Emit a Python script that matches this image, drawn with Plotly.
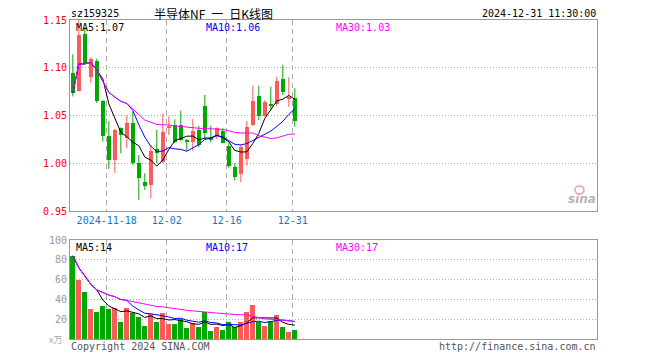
import numpy as np
import pandas as pd
import plotly.graph_objects as go

# ---------------- data ----------------
dates = ["2024-11-08", "2024-11-11", "2024-11-12", "2024-11-13", "2024-11-14", "2024-11-15",
         "2024-11-18", "2024-11-19", "2024-11-20", "2024-11-21", "2024-11-22", "2024-11-25",
         "2024-11-26", "2024-11-27", "2024-11-28", "2024-11-29", "2024-12-02", "2024-12-03",
         "2024-12-04", "2024-12-05", "2024-12-06", "2024-12-09", "2024-12-10", "2024-12-11",
         "2024-12-12", "2024-12-13", "2024-12-16", "2024-12-17", "2024-12-18", "2024-12-19",
         "2024-12-20", "2024-12-23", "2024-12-24", "2024-12-25", "2024-12-26", "2024-12-27",
         "2024-12-30", "2024-12-31"]
open_ = [1.0945, 1.076, 1.135, 1.090, 1.1074, 1.065, 1.029, 1.0035, 1.0366, 1.026,
         1.0418, 1.0006, 0.9807, 0.9772, 1.0146, 1.0016, 1.037, 1.040, 1.040, 1.0236,
         1.0226, 1.0347, 1.060, 1.0267, 1.0288, 1.0333, 1.0184, 0.9958, 0.9889, 1.0045,
         1.040, 1.070, 1.0495, 1.062, 1.0617, 1.0882, 1.0673, 1.0687]
high = [1.114, 1.150, 1.142, 1.111, 1.1095, 1.066, 1.044, 1.036, 1.0375, 1.050,
        1.054, 1.0086, 0.9895, 1.019, 1.0348, 1.0523, 1.049, 1.046, 1.055, 1.0253,
        1.0462, 1.0392, 1.0715, 1.0392, 1.0375, 1.0368, 1.0208, 1.000, 1.0194, 1.0444,
        1.0812, 1.0812, 1.066, 1.0802, 1.0907, 1.1029, 1.090, 1.0785]
low = [1.070, 1.075, 1.103, 1.084, 1.063, 1.0226, 0.994, 0.990, 1.0105, 1.0157,
       0.998, 0.9615, 0.972, 0.9633, 0.9999, 0.9999, 1.0296, 1.021, 1.023, 1.0131,
       1.0132, 1.0167, 1.0253, 1.0219, 1.0253, 1.0208, 0.9951, 0.9819, 0.9802, 0.9976,
       1.0392, 1.0453, 1.0488, 1.0558, 1.060, 1.0715, 1.0592, 1.0383]
close = [1.0736, 1.134, 1.105, 1.1095, 1.065, 1.029, 1.003, 1.035, 1.030, 1.0418,
         1.0006, 0.9842, 0.9762, 1.0131, 1.0104, 1.033, 1.039, 1.0226, 1.0243, 1.0226,
         1.034, 1.0194, 1.0313, 1.0253, 1.0368, 1.0215, 0.9976, 0.9861, 1.0167, 1.0378,
         1.0655, 1.050, 1.0645, 1.0603, 1.0861, 1.0743, 1.0697, 1.0442]
volume = [84, 60, 47, 30, 27, 33, 30, 31, 17, 31, 26, 22, 13, 25, 17, 26, 15, 15, 20, 11,
          16, 12, 27, 8, 12, 9, 17, 12, 17, 27, 34, 17, 13, 18, 24, 12, 7, 9]  # 万

tick_dates = ["2024-11-18", "2024-12-02", "2024-12-16", "2024-12-31"]
tick_text = ["2024-11-18", "12-02", "12-16", "12-31"]
price_ticks = [0.95, 1.00, 1.05, 1.10, 1.15]
vol_ticks = [20, 40, 60, 80, 100]
ma_windows = [5, 10, 30]
ma_colors = ["#000000", "#0000ff", "#ff00ff"]

symbol = "sz159325"
title = "半导体NF\u2002一\u2002日K线图"
stamp = "2024-12-31 11:30:00"

# ---------------- styles / layout helpers ----------------
UP = "#ff5a5a"
DOWN = "#00a800"
GRID = "#aaaaaa"
BORDER = "#999999"
MONO = "DejaVu Sans Mono"
W, H = 660, 360
L, R, T, B = 70, 63, 20, 21
PW, PH = W - L - R, H - T - B


def px(x):
    return (x - L) / PW


def py(y):
    return (H - B - y) / PH


n = len(dates)
x = np.arange(n)
o = np.array(open_); c = np.array(close); hi = np.array(high); lo = np.array(low)
v = np.array(volume, dtype=float)
up = c >= o
xr = [-0.47, 87.37]
grid_x = [dates.index(d) - 0.35 for d in tick_dates]

fig = go.Figure()

# wicks
for mask, col in [(up, UP), (~up, DOWN)]:
    wx, wy = [], []
    for i in x[mask]:
        wx += [i, i, None]
        wy += [lo[i], hi[i], None]
    fig.add_trace(go.Scatter(x=wx, y=wy, mode="lines", line=dict(color=col, width=1),
                             xaxis="x", yaxis="y", hoverinfo="skip", showlegend=False))
# bodies
for mask, col in [(up, UP), (~up, DOWN)]:
    base = np.minimum(o, c)[mask]
    hgt = np.maximum(np.abs(c - o)[mask], 0.0012)
    fig.add_trace(go.Bar(x=x[mask], y=hgt, base=base, width=0.75,
                         marker=dict(color=col, line=dict(width=0)),
                         xaxis="x", yaxis="y", hoverinfo="skip", showlegend=False))
# price MAs
ma_last = []
for w, col in zip(ma_windows, ma_colors):
    ma = pd.Series(c).rolling(w, min_periods=1).mean()
    ma_last.append(ma.iloc[-1])
    fig.add_trace(go.Scatter(x=x, y=ma, mode="lines", line=dict(color=col, width=1),
                             xaxis="x", yaxis="y", hoverinfo="skip", showlegend=False))

# volume
for mask, col in [(up, UP), (~up, DOWN)]:
    fig.add_trace(go.Bar(x=x[mask], y=v[mask], width=0.83,
                         marker=dict(color=col, line=dict(width=0)),
                         xaxis="x2", yaxis="y2", hoverinfo="skip", showlegend=False))
vma_last = []
for w, col in zip(ma_windows, ma_colors):
    ma = pd.Series(v).rolling(w, min_periods=1).mean()
    vma_last.append(ma.iloc[-1])
    fig.add_trace(go.Scatter(x=x, y=ma, mode="lines", line=dict(color=col, width=1),
                             xaxis="x2", yaxis="y2", hoverinfo="skip", showlegend=False))

axis_common = dict(showline=True, mirror=True, linecolor=BORDER, linewidth=1,
                   zeroline=False, ticks="", fixedrange=True)

fig.update_layout(
    width=W, height=H,
    margin=dict(l=L, r=R, t=T, b=B, pad=0),
    paper_bgcolor="white", plot_bgcolor="white",
    barmode="overlay", bargap=0, showlegend=False, hovermode=False,
    font=dict(family=MONO, size=10, color="#000"),
    xaxis=dict(domain=[0, 1], anchor="y", range=xr, tickmode="array",
               tickvals=grid_x, ticktext=tick_text, showgrid=True, gridcolor=GRID,
               griddash="5px,4px", gridwidth=1,
               tickfont=dict(family=MONO, size=10, color="#0a7ad0"), **axis_common),
    yaxis=dict(domain=[py(211), 1], anchor="x", range=[0.95, 1.15], tickmode="array",
               tickvals=price_ticks, ticktext=[f"{t:.2f}" for t in price_ticks],
               showgrid=True, gridcolor=GRID, griddash="1px,2px", gridwidth=1,
               tickfont=dict(family=MONO, size=10, color="#ff0000"), **axis_common),
    xaxis2=dict(domain=[0, 1], anchor="y2", range=xr, tickmode="array",
                tickvals=grid_x, showticklabels=False, showgrid=True, gridcolor=GRID,
                griddash="5px,4px", gridwidth=1, **axis_common),
    yaxis2=dict(domain=[0, py(240)], anchor="x2", range=[0, 100], tickmode="array",
                tickvals=vol_ticks, ticktext=[str(t) for t in vol_ticks],
                showgrid=True, gridcolor=GRID, griddash="1px,2px", gridwidth=1,
                tickfont=dict(family=MONO, size=10, color="#999999"), **axis_common),
)

ann = []


def text(t, xp, yp, color="#000", anchor="left", size=10, family=MONO, **kw):
    ann.append(dict(text=t, x=px(xp), y=py(yp), xref="paper", yref="paper",
                    xanchor=anchor, yanchor="middle", showarrow=False,
                    font=dict(family=family, size=size, color=color), **kw))


text(symbol, 69, 13)
text(title, 213, 13, anchor="center", size=12, family="Noto Sans CJK SC")
text(stamp, 598, 13, anchor="right")
label_x = [74, 204, 334]
for lx, w, col, val in zip(label_x, ma_windows, ma_colors, ma_last):
    text(f"MA{w}:{val:.2f}", lx, 27, color=col)
for lx, w, col, val in zip(label_x, ma_windows, ma_colors, vma_last):
    text(f"MA{w}:{int(val)}", lx, 247, color=col)
text("x万", 64, 340, color="#aaaaaa", anchor="right", size=9,
     family="Noto Sans CJK SC")
text("Copyright 2024 SINA.COM", 69, 346, color="#555555")
text("http://finance.sina.com.cn", 598, 346, color="#555555", anchor="right")
text("<i><b>sina</b></i>", 582, 199, color="#b5b5b5", anchor="center", size=12,
     family="DejaVu Sans")
fig.update_layout(annotations=ann)
fig.add_shape(type="circle", xref="paper", yref="paper",
              x0=px(575), x1=px(584), y0=py(194), y1=py(186),
              line=dict(color="#f2a0a0", width=1.5), fillcolor="rgba(0,0,0,0)")

fig.write_html("out.html")
